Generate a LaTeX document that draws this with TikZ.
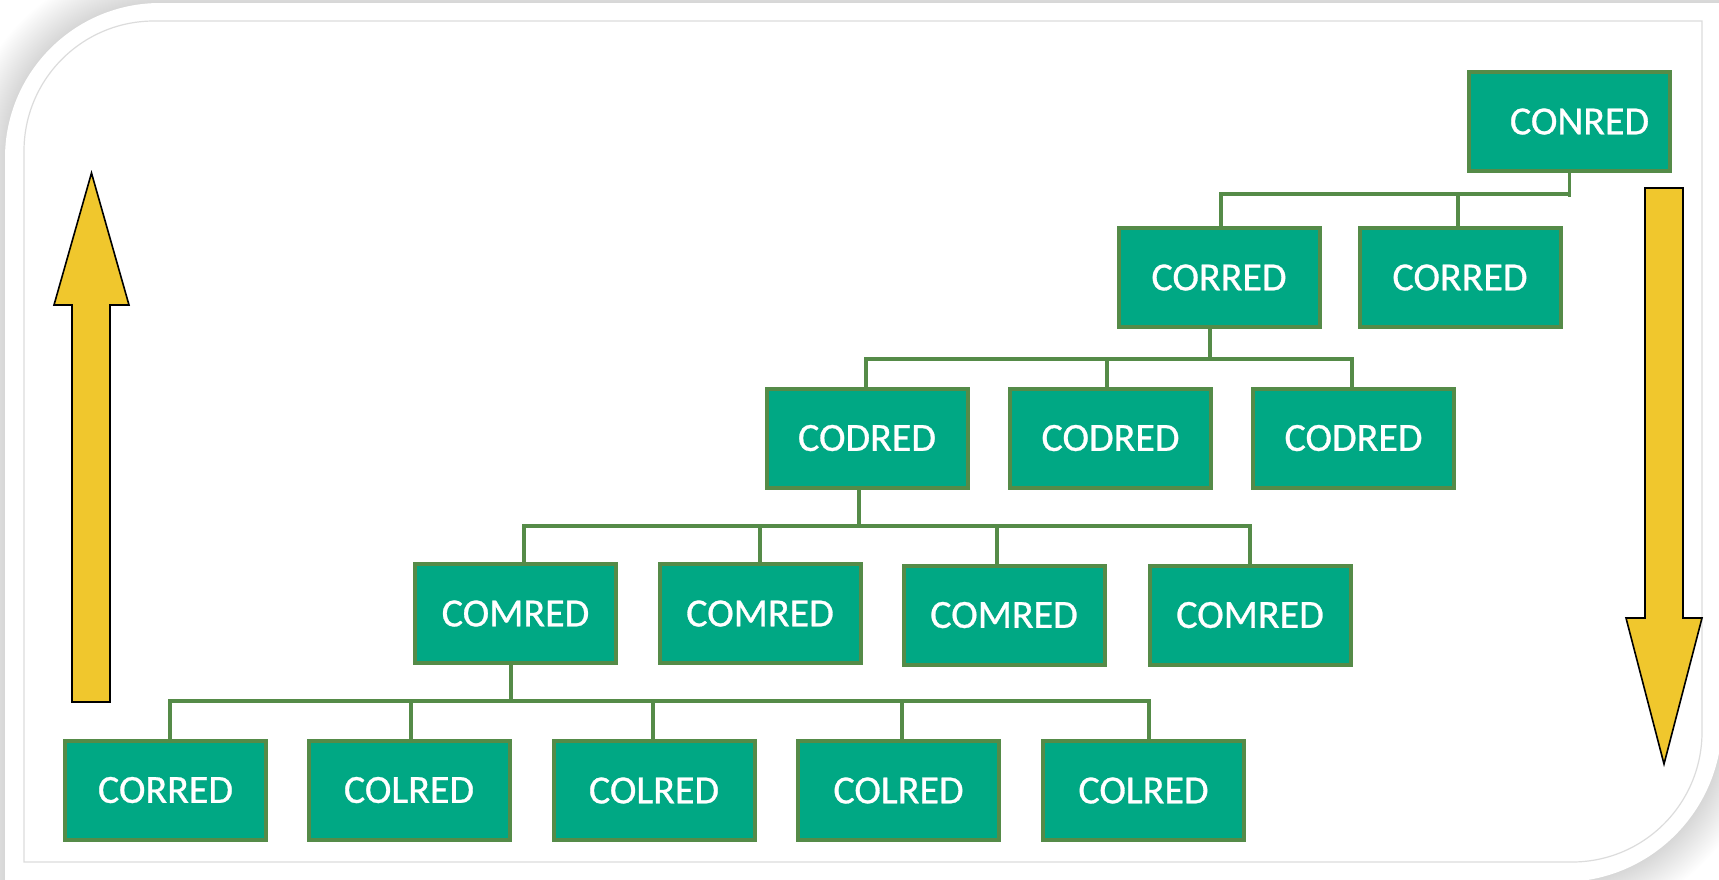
\documentclass[tikz,border=0pt]{standalone}
\usepackage{fontspec}
\setmainfont{Carlito}
\newfontfamily\boxfont{Carlito}[FakeBold=0.7]
\usetikzlibrary{calc}
\definecolor{boxfill}{HTML}{00A884}
\definecolor{boxline}{HTML}{558B48}
\definecolor{arrowfill}{HTML}{F0C72D}
\definecolor{framegray}{HTML}{DCDCDC}
\tikzset{
  orgbox/.style={draw=boxline, fill=boxfill, line width=2pt, minimum width=100.5pt,
    minimum height=49.5pt, inner sep=0pt, text=white, font=\boxfont\fontsize{20}{24}\selectfont},
  link/.style={draw=boxline, line width=1.6pt},
  bigarrow/.style={fill=arrowfill, draw=black, line width=0.8pt, line join=miter},
}
\begin{document}
\begin{tikzpicture}[x=0.5pt, y=-0.5pt]
\useasboundingbox (0,0) rectangle (1719,879);
\fill[white] (0,0) rectangle (1719,879);
% soft shadow of the card
\foreach \k in {1,...,40}{
  \pgfmathsetmacro{\L}{5-\k}
  \pgfmathsetmacro{\T}{3-\k}
  \pgfmathsetmacro{\R}{1722+\k}
  \pgfmathsetmacro{\B}{882+\k}
  \pgfmathsetmacro{\ra}{155+\k}
  \pgfmathsetmacro{\rb}{160+\k}
  \pgfmathsetmacro{\ca}{0.4477*\ra}
  \pgfmathsetmacro{\cb}{0.4477*\rb}
  \fill[black, opacity=0.0055] (\L,\B) -- (\L,\T+\ra) .. controls (\L,\T+\ca) and (\L+\ca,\T) .. (\L+\ra,\T)
     -- (\R,\T) -- (\R,\B-\rb) .. controls (\R,\B-\cb) and (\R-\cb,\B) .. (\R-\rb,\B) -- cycle;
}
% card
\fill[white] (5,882) -- (5,158) .. controls (5,72.4) and (74.4,3) .. (160,3)
   -- (1722,3) -- (1722,722) .. controls (1722,810.4) and (1650.4,882) .. (1562,882) -- cycle;
% inner frame line
\draw[framegray, line width=0.6pt] (24,862) -- (24,151) .. controls (24,79.2) and (82.2,21) .. (154,21)
   -- (1702,21) -- (1702,732) .. controls (1702,803.8) and (1643.8,862) .. (1572,862) -- cycle;

% arrows
\draw[bigarrow] (72,702) -- (72,305) -- (54,305) -- (91.5,173) -- (129,305) -- (110,305) -- (110,702) -- cycle;
\draw[bigarrow] (1645,188) -- (1683,188) -- (1683,618) -- (1702,618) -- (1664,764) -- (1626,618) -- (1645,618) -- cycle;

% boxes
\node[orgbox] (conred) at (1569.5,121.5) {\hspace{10pt}CONRED};

\node[orgbox] (corredA) at (1219,277.5) {CORRED};
\node[orgbox] (corredB) at (1460,277.5) {CORRED};

\node[orgbox] (codredA) at (867,438) {CODRED};
\node[orgbox] (codredB) at (1110.5,438) {CODRED};
\node[orgbox] (codredC) at (1353.5,438) {CODRED};

\node[orgbox] (comredA) at (515.5,613.5) {COMRED};
\node[orgbox] (comredB) at (760,613.5) {COMRED};
\node[orgbox] (comredC) at (1004,615) {COMRED};
\node[orgbox] (comredD) at (1250,615) {COMRED};

\node[orgbox] (corredC) at (165.5,790) {CORRED};
\node[orgbox] (colredA) at (409,790) {COLRED};
\node[orgbox] (colredB) at (654,790.5) {COLRED};
\node[orgbox] (colredC) at (898.5,790.5) {COLRED};
\node[orgbox] (colredD) at (1143.5,790.5) {COLRED};

% connectors
\coordinate (b1) at ($(conred.south)+(0,21)$);
\draw[link] (conred.south) -- ++(0,24);
\draw[link] (b1) -| ($(corredA.north)+(2,0)$);
\draw[link] (b1) -| ($(corredB.north)+(-2,0)$);

\coordinate (b2) at ($(corredA.south)+(-9,30)$);
\draw[link] ($(corredA.south)+(-9,0)$) -- (b2);
\draw[link] (b2) -| ($(codredA.north)+(-1,0)$);
\draw[link] (b2) -| ($(codredB.north)+(-3.5,0)$);
\draw[link] (b2) -| ($(codredC.north)+(-1.5,0)$);

\coordinate (b3) at ($(codredA.south)+(-8,36.5)$);
\draw[link] ($(codredA.south)+(-8,0)$) -- (b3);
\draw[link] (b3) -| ($(comredA.north)+(8.5,0)$);
\draw[link] (b3) -| (comredB.north);
\draw[link] (b3) -| ($(comredC.north)+(-7,0)$);
\draw[link] (b3) -| (comredD.north);

\coordinate (b4) at ($(comredA.south)+(-4.5,36)$);
\draw[link] ($(comredA.south)+(-4.5,0)$) -- (b4);
\draw[link] (b4) -| ($(corredC.north)+(4.5,0)$);
\draw[link] (b4) -| ($(colredA.north)+(2,0)$);
\draw[link] (b4) -| ($(colredB.north)+(-1,0)$);
\draw[link] (b4) -| ($(colredC.north)+(3.5,0)$);
\draw[link] (b4) -| ($(colredD.north)+(5.5,0)$);
\end{tikzpicture}
\end{document}
